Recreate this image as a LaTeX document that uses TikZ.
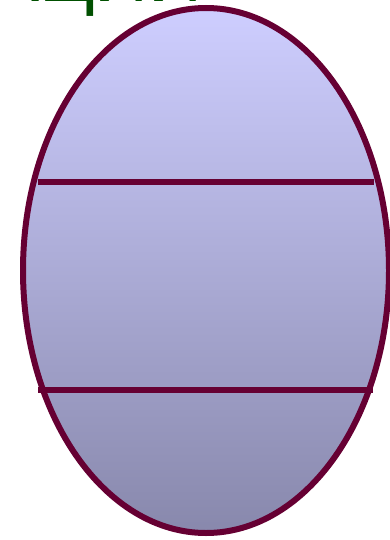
\documentclass[tikz,border=0pt]{standalone}
\usepackage{fontspec}
\newfontfamily\titlefont{Liberation Sans}
\definecolor{rim}{RGB}{102,0,51}
\definecolor{titlegreen}{RGB}{0,80,0}
\definecolor{topfill}{RGB}{206,206,255}
\definecolor{botfill}{RGB}{136,136,172}
\tikzset{
  rimline/.style={draw=rim, line width=6pt},
  band/.style={draw=rim, line width=6pt},
}
\begin{document}
\begin{tikzpicture}[x=1pt,y=-1pt]
\useasboundingbox (0,0) rectangle (390,540);
\clip (0,0) rectangle (390,540);
\node[anchor=base west, inner sep=0pt, text=titlegreen, font=\titlefont\fontsize{75}{75}\selectfont] (title) at (-11,1.5) {АЦИИ};
\shade[top color=topfill, bottom color=botfill] (206,270.5) ellipse [x radius=183, y radius=262.5];
\draw[rimline] (206,270.5) ellipse [x radius=183, y radius=262.5];
\draw[band] (38,182) -- (374,182);
\draw[band] (38,390) -- (373,390);
\end{tikzpicture}
\end{document}
